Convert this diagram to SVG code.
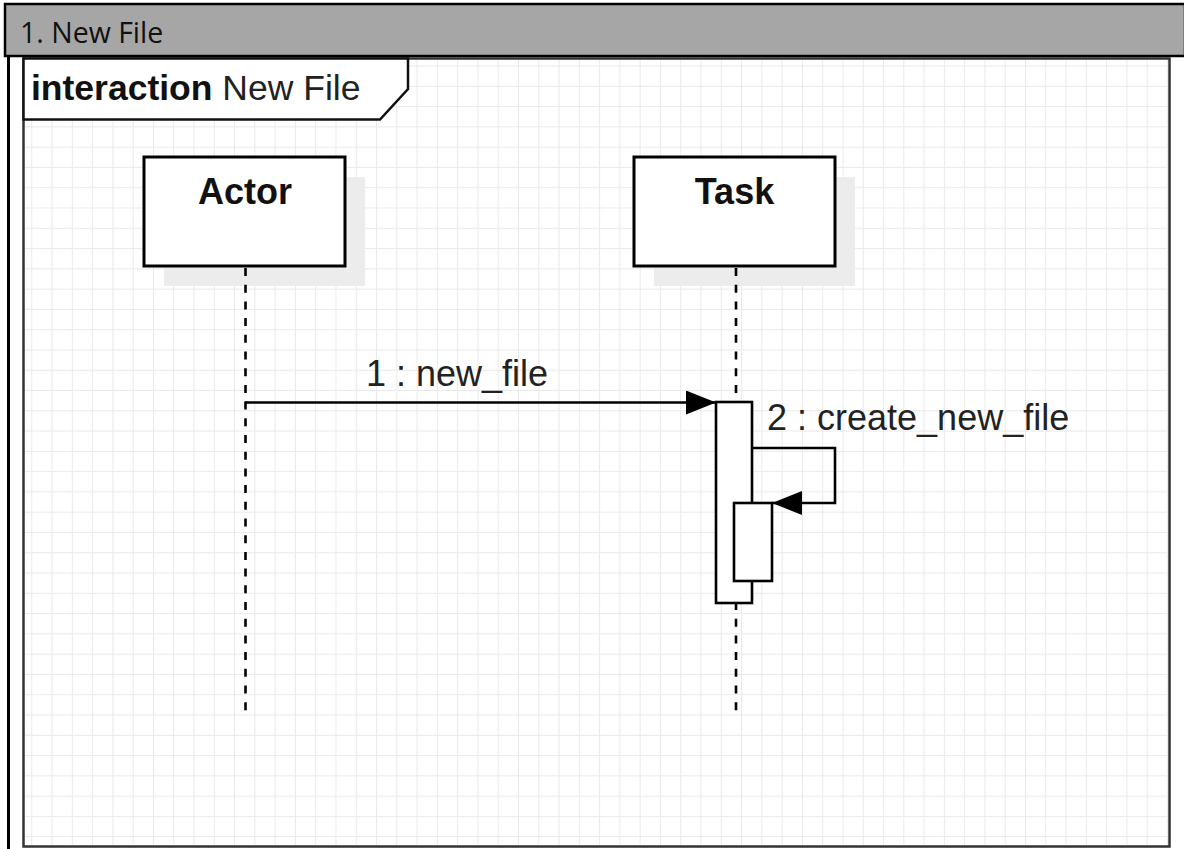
<svg xmlns="http://www.w3.org/2000/svg" width="1184" height="849" viewBox="0 0 1184 849">
  <defs>
    <pattern id="grid" patternUnits="userSpaceOnUse" x="11" y="4.7" width="20.28" height="20.28">
      <path d="M0 0.5 H20.28 M0.5 0 V20.28" fill="none" stroke="#e9e9e9" stroke-width="1"/>
    </pattern>
    <marker id="arrow" markerUnits="userSpaceOnUse" markerWidth="31" markerHeight="25" refX="30" refY="12" orient="auto">
      <path d="M0 0 L30 12 L0 24 Z" fill="#000"/>
    </marker>
    <style>
      .box { fill: #fff; stroke: #000; stroke-width: 3; }
      .shadow { fill: #ececec; }
      .life { fill: none; stroke: #000; stroke-width: 2.6; stroke-dasharray: 8 8.7; }
      .msg { fill: none; stroke: #000; stroke-width: 2.6; }
      .act { fill: #fff; stroke: #000; stroke-width: 2.6; }
      .title { font-family: "Liberation Sans", Arial, sans-serif; font-size: 36px; font-weight: bold; fill: #111; text-anchor: middle; }
      .label { font-family: "Liberation Sans", Arial, sans-serif; font-size: 36px; fill: #222; }
    </style>
  </defs>

  <!-- page background -->
  <rect x="0" y="0" width="1184" height="849" fill="#fff"/>

  <!-- section header -->
  <g id="header">
    <rect x="5" y="4" width="1180" height="52" fill="#a6a6a6" stroke="#000" stroke-width="2.5"/>
    <text x="20" y="43" font-family="'Open Sans', 'Noto Sans', sans-serif" font-size="28.5" fill="#111">1. New File</text>
    <line x1="8.5" y1="56" x2="8.5" y2="849" stroke="#000" stroke-width="3"/>
  </g>

  <!-- interaction frame -->
  <g id="frame">
    <rect x="23.5" y="58.5" width="1146" height="788" fill="#fff" stroke="#333" stroke-width="2.5"/>
    <rect x="25" y="60" width="1143" height="785" fill="url(#grid)"/>
    <path d="M23.5 58.5 H408 V89 L380 119.5 H23.5 Z" fill="#fff" stroke="#111" stroke-width="2.5"/>
    <text x="31" y="100" font-family="'Liberation Sans', Arial, sans-serif" font-size="35.5" fill="#222"><tspan font-weight="bold" fill="#111">interaction</tspan> New File</text>
  </g>

  <!-- lifeline: Actor -->
  <g id="actor">
    <rect class="shadow" x="164" y="177" width="201" height="109"/>
    <line class="life" x1="245.5" y1="268" x2="245.5" y2="713"/>
    <rect class="box" x="144" y="157" width="201" height="109"/>
    <text class="title" x="245" y="204">Actor</text>
  </g>

  <!-- lifeline: Task -->
  <g id="task">
    <rect class="shadow" x="654" y="177" width="201" height="109"/>
    <line class="life" x1="736" y1="268" x2="736" y2="713"/>
    <rect class="box" x="634" y="157" width="201" height="109"/>
    <text class="title" x="734.5" y="204">Task</text>
  </g>

  <!-- execution specifications on Task -->
  <g id="task-activation">
    <rect class="act" x="716" y="402" width="36" height="201"/>
    <rect class="act" x="734" y="503" width="38" height="78"/>
  </g>

  <!-- messages -->
  <g id="connectors">
    <line class="msg" x1="245" y1="402.5" x2="716" y2="402.5" marker-end="url(#arrow)"/>
    <text class="label" x="366" y="386">1 : new_file</text>
    <polyline class="msg" points="752,448 835,448 835,503 772,503" marker-end="url(#arrow)"/>
    <text class="label" x="767" y="430">2 : create_new_file</text>
  </g>
</svg>
